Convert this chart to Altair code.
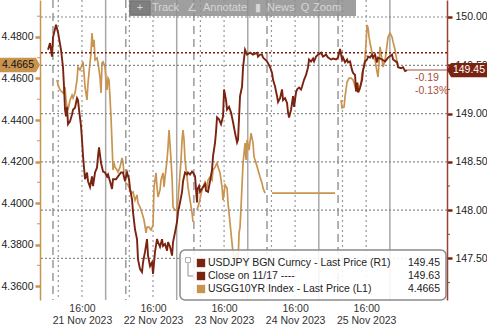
import altair as alt
import pandas as pd

FONT = "Liberation Sans"
JPY_COLOR = "#7b2311"
YLD_COLOR = "#c9944f"
AXIS_RED = "#9a4232"
GRID = "#9a9a9a"

BASE = pd.Timestamp("2023-11-21 00:00:00")

# ---------------- data (hours after 21 Nov 2023 00:00) ----------------
jpy_hours = [
    4.53, 5.20, 5.88, 6.22, 7.23, 7.91, 8.92, 9.59, 9.93, 10.27,
    10.61, 10.95, 11.28, 11.96, 12.64, 12.97, 13.65, 14.32, 14.66, 15.00,
    15.68, 16.01, 16.35, 17.03, 17.70, 18.04, 18.72, 19.39, 19.73, 20.41,
    21.08, 21.42, 21.76, 22.43, 23.11, 23.78, 24.46, 24.80, 25.47, 26.15,
    26.49, 27.50, 28.18, 29.19, 29.86, 30.54, 31.22, 31.89, 32.23, 32.91,
    33.24, 33.92, 34.59, 34.93, 35.61, 36.28, 36.62, 37.30, 37.97, 38.31,
    38.99, 39.66, 40.00, 40.68, 41.35, 41.69, 42.36, 43.04, 43.38, 44.05,
    44.73, 45.07, 45.74, 46.42, 46.76, 47.43, 48.11, 48.45, 49.12, 49.80,
    50.14, 50.81, 51.49, 51.82, 52.50, 53.18, 53.51, 54.19, 54.86, 55.03,
    55.54, 55.88, 56.89, 57.57, 57.91, 58.58, 59.26, 59.93, 60.27, 60.95,
    61.28, 61.62, 62.30, 62.97, 63.65, 63.99, 64.66, 65.00, 65.68, 66.35,
    67.03, 67.70, 68.38, 68.72, 69.39, 70.07, 70.41, 71.08, 71.76, 72.77,
    73.78, 75.14, 75.47, 76.15, 76.82, 77.16, 78.51, 79.53, 80.20, 80.54,
    81.22, 81.89, 82.23, 82.91, 83.58, 83.92, 84.59, 85.27, 85.61, 85.95,
    86.62, 86.96, 87.30, 87.64, 88.31, 88.65, 89.32, 90.00, 90.34, 91.01,
    91.69, 92.36, 92.70, 93.38, 94.05, 94.39, 95.07, 95.74, 96.76, 97.43,
    98.45, 99.12, 100.14, 100.81, 101.82, 102.50, 103.18, 103.85, 104.19, 104.86,
    105.54, 105.88, 106.55, 107.23, 107.57, 108.24, 108.58, 108.92, 109.26, 109.93,
    110.61, 110.95, 111.62, 112.30, 112.64, 113.31, 113.99, 114.32, 115.00, 115.68,
    116.01, 117.36, 118.38, 119.39, 120.74, 121.08, 122.43, 122.77, 123.78, 124.46,
    125.14, 125.81,
]
jpy_values = [
    149.66, 149.73, 149.59, 149.79, 149.92, 149.84, 149.66, 149.48, 149.28, 149.04,
    148.97, 149.07, 148.89, 148.92, 148.99, 149.04, 149.06, 149.16, 149.14, 149.04,
    148.87, 148.73, 148.56, 148.32, 148.39, 148.30, 148.24, 148.35, 148.25, 148.39,
    148.44, 148.56, 148.65, 148.49, 148.40, 148.39, 148.35, 148.37, 148.30, 148.22,
    148.32, 148.32, 148.35, 148.39, 148.39, 148.30, 148.39, 148.32, 148.22, 148.11,
    147.98, 147.80, 147.70, 147.49, 147.39, 147.36, 147.46, 147.57, 147.70, 147.53,
    147.42, 147.46, 147.34, 147.57, 147.70, 147.67, 147.62, 147.70, 147.63, 147.65,
    147.58, 147.67, 147.62, 147.53, 147.67, 147.77, 147.88, 147.98, 148.08, 148.19,
    148.30, 148.39, 148.37, 148.39, 148.37, 148.40, 148.39, 148.35, 148.08, 148.22,
    148.25, 148.19, 148.24, 148.27, 148.20, 148.19, 148.30, 148.42, 148.56, 148.70,
    148.81, 148.96, 148.94, 148.89, 148.97, 149.25, 149.14, 149.04, 149.07, 149.01,
    148.91, 148.80, 148.70, 148.73, 149.18, 149.28, 149.48, 149.66, 149.61, 149.63,
    149.61, 149.63, 149.59, 149.61, 149.61, 149.58, 149.54, 149.48, 149.42, 149.35,
    149.28, 149.18, 149.12, 149.16, 149.25, 149.14, 149.16, 149.11, 149.01, 148.96,
    149.04, 149.11, 149.18, 149.07, 149.22, 149.25, 149.27, 149.25, 149.28, 149.35,
    149.40, 149.48, 149.56, 149.54, 149.57, 149.54, 149.59, 149.61, 149.63, 149.59,
    149.61, 149.58, 149.56, 149.57, 149.56, 149.58, 149.67, 149.56, 149.58, 149.53,
    149.56, 149.53, 149.54, 149.45, 149.42, 149.40, 149.23, 149.32, 149.22, 149.27,
    149.35, 149.45, 149.54, 149.56, 149.59, 149.58, 149.61, 149.58, 149.61, 149.53,
    149.58, 149.56, 149.54, 149.58, 149.61, 149.56, 149.53, 149.48, 149.47, 149.48,
    149.44, 149.45,
]

yld_s1_hours = [
    7.57, 7.91, 8.58, 9.26, 9.59, 10.27, 10.61, 10.95, 11.28, 11.96,
    12.64, 12.97, 13.65, 14.32, 14.66, 15.34, 16.01, 16.35, 16.69, 17.03,
    17.70, 18.04, 18.38, 19.05, 19.39, 19.73, 20.07, 20.41, 21.08, 21.42,
    22.09, 22.43, 22.77, 23.11, 23.78, 24.12, 24.46, 24.80, 25.14, 25.81,
    26.15, 26.49, 26.82, 27.16, 27.84, 28.18, 28.85, 29.53, 29.86, 30.20,
]
yld_s1_values = [
    4.4593, 4.4569, 4.4545, 4.4535, 4.4530, 4.4559, 4.4496, 4.4463, 4.4448, 4.4496,
    4.4520, 4.4506, 4.4530, 4.4593, 4.4655, 4.4641, 4.4665, 4.4680, 4.4627, 4.4559,
    4.4496, 4.4578, 4.4627, 4.4723, 4.4819, 4.4752, 4.4786, 4.4689, 4.4699, 4.4675,
    4.4607, 4.4530, 4.4675, 4.4680, 4.4655, 4.4593, 4.4545, 4.4602, 4.4593, 4.4414,
    4.4289, 4.4159, 4.4193, 4.4173, 4.4159, 4.4149, 4.4173, 4.4217, 4.4193, 4.4145,
]
yld_s2_hours = [
    30.88, 31.55, 32.23, 32.91, 33.24, 33.92, 34.59, 34.93, 35.61, 36.28,
    36.96, 37.64, 37.97, 38.65, 39.32, 40.00, 40.34, 41.01, 41.35, 41.69,
    42.36, 42.70, 43.38, 43.72, 44.05, 44.73, 45.07, 45.41, 46.08, 46.42,
    46.76, 47.43, 48.11, 48.45, 48.78, 49.46, 49.80, 50.14, 50.47, 50.81,
    51.49, 51.82, 52.50, 53.18, 53.51,
]
yld_s2_values = [
    4.4096, 4.4087, 4.4063, 4.4048, 4.4053, 4.4014, 4.4039, 4.4000, 4.3981, 4.3952,
    4.3918, 4.3856, 4.3884, 4.3884, 4.3870, 4.3894, 4.4077, 4.4145, 4.4077, 4.4029,
    4.4063, 4.4111, 4.4145, 4.4077, 4.4125, 4.4207, 4.4270, 4.4352, 4.4207, 4.4125,
    4.3981, 4.3966, 4.3966, 4.4014, 4.4077, 4.4207, 4.4304, 4.4352, 4.4304, 4.4207,
    4.4125, 4.4077, 4.4014, 4.3952, 4.3909,
]
yld_s3_hours = [
    54.86, 55.54, 56.55, 56.89, 57.57, 58.24, 58.58, 59.26, 59.93, 60.27,
    60.95, 61.62, 61.96, 62.64, 63.31, 63.65, 63.99, 64.32, 65.00, 65.34,
    66.01, 66.69, 67.03, 67.70, 68.38, 68.72, 69.05, 69.39, 69.73, 70.41,
    71.08, 71.42, 71.76, 72.43, 73.11, 73.78, 74.12, 74.80, 75.47, 76.15,
    76.82, 77.16, 77.84,
]
yld_s3_values = [
    4.3966, 4.4000, 4.4063, 4.4077, 4.4101, 4.4077, 4.4111, 4.4125, 4.4111, 4.4159,
    4.4173, 4.4193, 4.4173, 4.4145, 4.4077, 4.4014, 4.4048, 4.4087, 4.4072, 4.4000,
    4.3904, 4.3807, 4.3759, 4.3725, 4.3759, 4.3711, 4.3856, 4.3884, 4.3981, 4.4193,
    4.4289, 4.4207, 4.4304, 4.4255, 4.4337, 4.4289, 4.4222, 4.4193, 4.4159, 4.4125,
    4.4096, 4.4072, 4.4048,
]
yld_s4_hours = [80.20, 101.49]
yld_s4_values = [4.4048, 4.4048]
yld_s5_hours = [
    103.51, 103.85, 104.53, 104.86, 105.54, 106.22, 106.89, 107.57, 107.91, 108.58,
    109.26, 109.59, 110.27, 110.61, 111.28, 111.62, 111.96, 112.30, 112.64, 112.97,
    113.31, 113.99, 114.32, 115.00, 115.68, 116.01, 116.35, 116.69, 117.36, 117.70,
    118.38, 119.05, 119.39, 120.07, 120.74, 121.08, 121.76, 122.43, 122.77,
]
yld_s5_values = [
    4.4496, 4.4458, 4.4463, 4.4511, 4.4583, 4.4602, 4.4602, 4.4593, 4.4578, 4.4545,
    4.4569, 4.4535, 4.4578, 4.4627, 4.4655, 4.4699, 4.4771, 4.4858, 4.4843, 4.4800,
    4.4771, 4.4723, 4.4699, 4.4689, 4.4631, 4.4607, 4.4675, 4.4752, 4.4689, 4.4655,
    4.4689, 4.4761, 4.4800, 4.4819, 4.4800, 4.4776, 4.4737, 4.4680, 4.4665,
]

close_value = 149.63
last_jpy = 149.45
last_yld = 4.4665
change_texts = ["-0.19", "-0.13%"]

midnight_hours = [24, 48, 72, 96, 120]
session_hours = [6.2, 30.8, 53.8, 78.5, 102.5]
dotted_hours = [8, 16, 32, 40, 56, 64, 80, 88, 104, 112]
label_hours = [16, 40, 64, 88, 112]
x_range_hours = [1.82, 139.3]

left_ticks = [4.36, 4.38, 4.40, 4.42, 4.44, 4.46, 4.48]
left_minor = [4.37, 4.39, 4.41, 4.43, 4.45, 4.47, 4.49]
right_ticks = [147.5, 148.0, 148.5, 149.0, 149.5, 150.0]
right_minor = [147.25, 147.75, 148.25, 148.75, 149.25, 149.75]
left_domain = [4.3533, 4.4978]
right_domain = [147.070, 150.176]

legend_labels = ["USDJPY BGN Curncy - Last Price (R1)", "Close on 11/17 ----",
                 "USGG10YR Index - Last Price (L1)"]
legend_values = ["149.45", "149.63", "4.4665"]
legend_colors = [JPY_COLOR, JPY_COLOR, YLD_COLOR]
toolbar_items = ["+", "Track", "\u2220", "Annotate", "\u25AE", "News", "Q", "Zoom"]

# ---------------- helpers ----------------
W, H = 407, 300


def to_time(hours):
    s = BASE + pd.to_timedelta(pd.Series(hours, dtype=float), unit="h")
    return s.dt.round("s")


def dt(h):
    ts = (BASE + pd.Timedelta(hours=h)).round("s")
    return alt.DateTime(year=ts.year, month=ts.month, date=ts.day,
                        hours=ts.hour, minutes=ts.minute, seconds=ts.second)


x_scale = alt.Scale(domain=[dt(x_range_hours[0]), dt(x_range_hours[1])])
x_axis = alt.Axis(
    values=[dt(h) for h in label_hours],
    labelExpr="[timeFormat(datum.value, '%H:%M'), timeFormat(datum.value, '%d %b %Y')]",
    title=None, domain=False, ticks=False, grid=False, labelOverlap=False,
    labelFont=FONT, labelFontSize=10.5, labelColor="#333333", labelPadding=3,
    labelLineHeight=12, labelAngle=0, labelAlign="center", labelBaseline="top",
)


def xenc():
    return alt.X("time:T", scale=x_scale, axis=x_axis, title=None)


ly_scale = alt.Scale(domain=left_domain, nice=False, zero=False)
ry_scale = alt.Scale(domain=right_domain, nice=False, zero=False)

left_axis = alt.Axis(
    orient="left", values=left_ticks, format=".4f", title=None, grid=False,
    domainColor=YLD_COLOR, domainWidth=1.5, tickColor=YLD_COLOR, tickSize=5,
    tickWidth=2.5, labelColor="#222222", labelFont=FONT, labelFontSize=10.5,
    labelPadding=2,
)
right_axis = alt.Axis(
    orient="right", values=right_ticks, format=".2f", title=None, grid=False,
    domainColor=AXIS_RED, domainWidth=1.5, tickColor=JPY_COLOR, tickSize=5,
    tickWidth=2.5, labelColor="#222222", labelFont=FONT, labelFontSize=10.5,
    labelPadding=3,
)

# ---------------- frames ----------------
jpy_df = pd.DataFrame({"time": to_time(jpy_hours), "price": jpy_values})

seg_frames = []
for i, (hh, vv) in enumerate([(yld_s1_hours, yld_s1_values), (yld_s2_hours, yld_s2_values),
                             (yld_s3_hours, yld_s3_values), (yld_s4_hours, yld_s4_values),
                             (yld_s5_hours, yld_s5_values)]):
    seg_frames.append(pd.DataFrame({"time": to_time(hh), "yld": vv, "seg": i}))
yld_df = pd.concat(seg_frames, ignore_index=True)

mid_df = pd.DataFrame({"time": to_time(midnight_hours)})
sess_df = pd.DataFrame({"time": to_time(session_hours)})
dot_df = pd.DataFrame({"time": to_time(dotted_hours)})

# ---------------- grid layers (no y) ----------------
rules_dot = alt.Chart(dot_df).mark_rule(color=GRID, strokeWidth=1.2, strokeDash=[2, 3]).encode(x=xenc())
rules_sess = alt.Chart(sess_df).mark_rule(color=GRID, strokeWidth=1.5, strokeDash=[8, 5]).encode(x=xenc())
rules_mid = alt.Chart(mid_df).mark_rule(color="#a8a8a8", strokeWidth=1.5).encode(x=xenc())

# ---------------- left (yield) ----------------
LEFT_TAG = "M-1,-0.36L0.8,-0.36L1,0L0.8,0.36L-1,0.36Z"
RIGHT_TAG = "M1,-0.36L-0.8,-0.36L-1,0L-0.8,0.36L1,0.36Z"

yld_line = alt.Chart(yld_df).mark_line(color=YLD_COLOR, strokeWidth=1.7).encode(
    x=xenc(), y=alt.Y("yld:Q", scale=ly_scale, axis=left_axis, title=None), detail="seg:N")
lminor = alt.Chart(pd.DataFrame({"yld": left_minor})).mark_rule(color=YLD_COLOR, strokeWidth=1).encode(
    x=alt.value(-3), x2=alt.value(0), y=alt.Y("yld:Q", scale=ly_scale, axis=left_axis, title=None))
ldf = pd.DataFrame({"yld": [last_yld]})
lbox = alt.Chart(ldf).mark_point(shape=LEFT_TAG, size=1600, filled=True, fill=YLD_COLOR,
                                 opacity=1, strokeWidth=0).encode(
    x=alt.value(-20), y=alt.Y("yld:Q", scale=ly_scale, axis=left_axis, title=None))
ltxt = alt.Chart(ldf).mark_text(font=FONT, fontSize=10.5, color="#111111", align="center",
                                baseline="middle").encode(
    x=alt.value(-22), y=alt.Y("yld:Q", scale=ly_scale, axis=left_axis, title=None),
    text=alt.Text("yld:Q", format=".4f"))


# ---------------- right (USDJPY) ----------------
def ry(field="price"):
    return alt.Y(f"{field}:Q", scale=ry_scale, axis=right_axis, title=None)


hgrid = alt.Chart(pd.DataFrame({"price": right_ticks})).mark_rule(
    color="#8a8a8a", strokeWidth=1.2, strokeDash=[2, 2]).encode(y=ry())
close_rule = alt.Chart(pd.DataFrame({"price": [close_value]})).mark_rule(
    color=JPY_COLOR, strokeWidth=1.6, strokeDash=[2, 2]).encode(y=ry())
jpy_line = alt.Chart(jpy_df).mark_line(color=JPY_COLOR, strokeWidth=1.9).encode(x=xenc(), y=ry())
rminor = alt.Chart(pd.DataFrame({"price": right_minor})).mark_rule(color=AXIS_RED, strokeWidth=1).encode(
    x=alt.value(W), x2=alt.value(W + 3), y=ry())
last_df = pd.DataFrame({"time": to_time([jpy_hours[-1]]), "price": [last_jpy]})
connector = alt.Chart(last_df).mark_rule(color="#c08a7c", strokeWidth=1.5).encode(
    x=xenc(), x2=alt.value(W), y=ry())
rbox = alt.Chart(last_df).mark_point(shape=RIGHT_TAG, size=1600, filled=True, fill=JPY_COLOR,
                                     opacity=1, strokeWidth=0).encode(x=alt.value(W + 20), y=ry())
rtxt = alt.Chart(last_df).mark_text(font=FONT, fontSize=10.5, color="#ffffff", align="center",
                                    baseline="middle").encode(
    x=alt.value(W + 22), y=ry(), text=alt.Text("price:Q", format=".2f"))

# ---------------- annotations (pixel placed) ----------------
one = pd.DataFrame({"a": [0]})
annots = []
for i, txt in enumerate(change_texts):
    annots.append(alt.Chart(pd.DataFrame({"t": [txt]})).mark_text(
        font=FONT, fontSize=10.5, color="#a5503a", align="left", baseline="middle").encode(
        x=alt.value(375), y=alt.value(78 + 13 * i), text="t:N"))

annots.append(alt.Chart(one).mark_rect(fill="#ffffff", fillOpacity=0.88, stroke="#8a8a8a",
                                       strokeWidth=1.5, cornerRadius=5).encode(
    x=alt.value(140), x2=alt.value(406), y=alt.value(250), y2=alt.value(300)))
annots.append(alt.Chart(one).mark_square(filled=False, stroke="#909090", strokeWidth=1, size=25).encode(
    x=alt.value(148), y=alt.value(260)))
annots.append(alt.Chart(one).mark_rule(color="#909090", strokeWidth=1).encode(
    x=alt.value(148), y=alt.value(263), y2=alt.value(276)))
annots.append(alt.Chart(one).mark_rule(color="#909090", strokeWidth=1).encode(
    x=alt.value(148), x2=alt.value(153), y=alt.value(276)))
for i, (lab, val, col) in enumerate(zip(legend_labels, legend_values, legend_colors)):
    yy = 263 + 13 * i
    d = pd.DataFrame({"lab": [lab], "val": [val]})
    annots.append(alt.Chart(d).mark_square(size=70, color=col, opacity=1).encode(
        x=alt.value(161), y=alt.value(yy)))
    annots.append(alt.Chart(d).mark_text(font=FONT, fontSize=10.5, color="#222222",
                                         align="left", baseline="middle").encode(
        x=alt.value(168), y=alt.value(yy), text="lab:N"))
    annots.append(alt.Chart(d).mark_text(font=FONT, fontSize=10.5, color="#222222",
                                         align="right", baseline="middle").encode(
        x=alt.value(400), y=alt.value(yy), text="val:N"))

annots.append(alt.Chart(one).mark_rect(fill="#8e8e8e", opacity=0.85).encode(
    x=alt.value(89), x2=alt.value(316), y=alt.value(0), y2=alt.value(16)))
annots.append(alt.Chart(one).mark_rect(fill="#7c7c7c", stroke="#6a6a6a", opacity=0.9).encode(
    x=alt.value(90), x2=alt.value(110), y=alt.value(1), y2=alt.value(15)))
tb_x = [100, 112, 152, 163, 218, 227, 265, 273]
for xx, txt in zip(tb_x, toolbar_items):
    annots.append(alt.Chart(pd.DataFrame({"t": [txt]})).mark_text(
        font=FONT, fontSize=11, color="#d6d6d6", align="left" if len(txt) > 1 else "center",
        baseline="middle").encode(x=alt.value(xx), y=alt.value(8), text="t:N"))

left_layer = alt.layer(rules_dot, rules_sess, rules_mid, yld_line, lminor, lbox, ltxt)
right_layer = alt.layer(close_rule, hgrid, jpy_line, rminor, connector, rbox, rtxt, *annots)

chart = alt.layer(left_layer, right_layer).resolve_scale(
    y="independent"
).properties(
    width=W, height=H,
    padding={"left": 40, "top": 0, "right": 40, "bottom": 27},
    autosize=alt.AutoSizeParams(type="none"),
    background="#ffffff",
).configure_view(stroke=None)

chart.save("out.html", embed_options={"renderer": "svg", "actions": False})
